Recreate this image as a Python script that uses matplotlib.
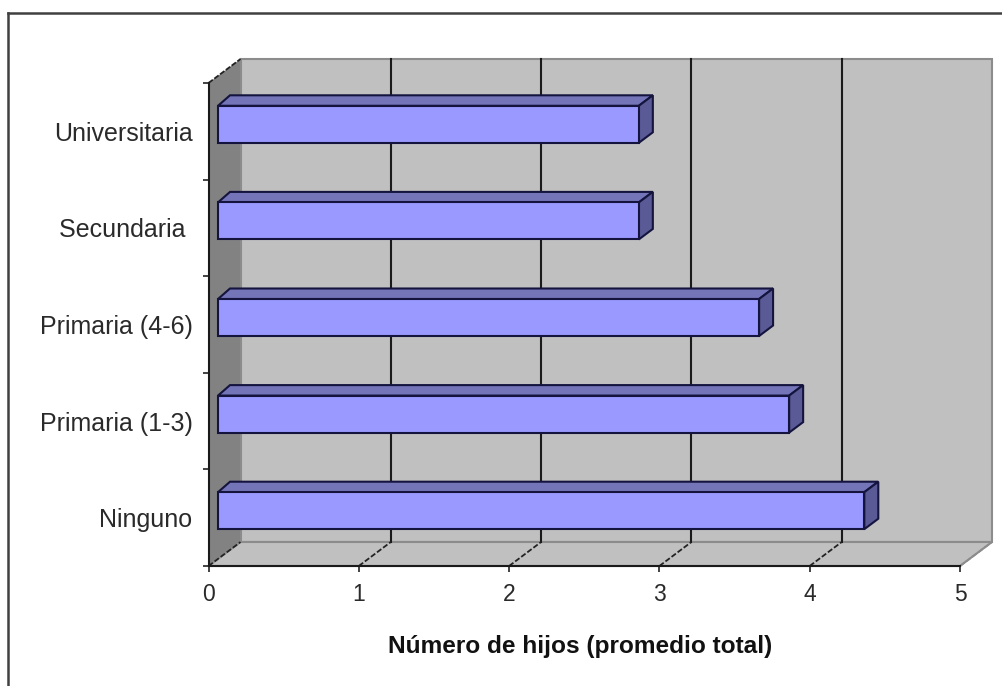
import matplotlib
matplotlib.use("Agg")
import matplotlib.pyplot as plt
from matplotlib.lines import Line2D
from matplotlib.patches import Polygon

categories = ["Ninguno", "Primaria (1-3)", "Primaria (4-6)", "Secundaria ", "Universitaria"]
values = [4.3, 3.8, 3.6, 2.8, 2.8]
x_ticks = [0, 1, 2, 3, 4, 5]
x_label = "Número de hijos (promedio total)"

W, H = 1002, 686
L, R, T, B = 208.5, 960.0, 83.0, 566.0
plt.rcParams["font.family"] = ["Liberation Sans", "DejaVu Sans"]

fig = plt.figure(figsize=(W / 100, H / 100), dpi=100, facecolor="white")
ax = fig.add_axes([L / W, (H - B) / H, (R - L) / W, (B - T) / H], facecolor="none")
ax.set_xlim(0, 5)
ax.set_ylim(-0.5, 4.5)

px = 5 / (R - L)       # data units per pixel horizontally
py = 5 / (B - T)       # data units per pixel vertically
DX, DY = 32 * px, 24 * py


def poly(points, fc, ec, lw=1.5, z=1):
    ax.add_patch(Polygon(points, closed=True, facecolor=fc, edgecolor=ec,
                         linewidth=lw, zorder=z, clip_on=False, joinstyle="miter"))


# walls and floor
poly([(0, -0.5), (DX, -0.5 + DY), (DX, 4.5 + DY), (0, 4.5)], "#828282", "none", 0, 1)
poly([(DX, -0.5 + DY), (5 + DX, -0.5 + DY), (5 + DX, 4.5 + DY), (DX, 4.5 + DY)],
     "#c0c0c0", "#8c8c8c", 1.5, 1)
poly([(0, -0.5), (5, -0.5), (5 + DX, -0.5 + DY), (DX, -0.5 + DY)], "#c0c0c0", "#8c8c8c", 1.5, 1.1)

# gridlines on the back wall and floor
for t in x_ticks:
    dark = "#8c8c8c" if t == 5 else "#222222"
    if 0 < t < 5:
        ax.plot([t + DX, t + DX], [-0.5 + DY, 4.5 + DY], color="#1a1a1a", lw=1.5, zorder=2, clip_on=False)
    ax.plot([t, t + DX], [-0.5, -0.5 + DY], color=dark, lw=1.3, ls=(0, (3, 1.2)), zorder=2, clip_on=False)
ax.plot([0, DX], [4.5, 4.5 + DY], color="#222222", lw=1.3, ls=(0, (3, 1.0)), zorder=3, clip_on=False)

# bars
off_x, off_y = 9.5 * px, 7 * py
back_l, back_r, back_y = 12 * px, 14 * px, 10.5 * py
edge = "#14143f"
bars = ax.barh(range(len(categories)), values, height=37 / 96.6, left=off_x,
               color="#9999ff", edgecolor=edge, linewidth=1.5, zorder=5, clip_on=False)
for bar, v in zip(bars, values):
    bar.set_y(bar.get_y() + off_y)
    x0, x1 = off_x, off_x + v
    y0, y1 = bar.get_y(), bar.get_y() + bar.get_height()
    poly([(x0, y1), (x1, y1), (x1 + back_r, y1 + back_y), (x0 + back_l, y1 + back_y)],
         "#7474b8", edge, 1.5, 4)
    poly([(x1, y0), (x1 + back_r, y0 + back_y), (x1 + back_r, y1 + back_y), (x1, y1)],
         "#5a5a96", edge, 1.5, 4)

# axes, ticks, labels
for s in ("top", "right"):
    ax.spines[s].set_visible(False)
for s in ("left", "bottom"):
    ax.spines[s].set_color("#1a1a1a")
    ax.spines[s].set_linewidth(1.5)
    ax.spines[s].set_zorder(3)

ax.set_xticks(x_ticks)
ax.set_yticks(range(len(categories)))
ax.set_yticklabels(categories)
ax.set_yticks([i - 0.5 for i in range(len(categories) + 1)], minor=True)
ax.tick_params(axis="y", which="major", length=0, pad=11.5, labelsize=18, labelcolor="#2a2a2a")
ax.tick_params(axis="y", which="minor", length=4, width=1.2, color="#222222")
ax.tick_params(axis="x", length=4, width=1.2, color="#222222", pad=8, labelsize=16.5, labelcolor="#2a2a2a")
ax.set_xlabel(x_label, fontweight="bold", fontsize=17.6, color="#111111", labelpad=22)
ax.xaxis.set_label_coords((580.5 - L) / (R - L), -(647 - B) / (B - T), transform=ax.transAxes)
ax.xaxis.label.set_verticalalignment("center")

# outer frame (runs off the picture on the right and at the bottom)
fr = dict(color="#404040", lw=1.8, transform=fig.transFigure)
fig.add_artist(Line2D([8 / W, 8 / W], [0, 1 - 13 / H], **fr))
fig.add_artist(Line2D([8 / W, 1], [1 - 13 / H, 1 - 13 / H], **fr))

fig.savefig("out.png", dpi=100, facecolor="white")
